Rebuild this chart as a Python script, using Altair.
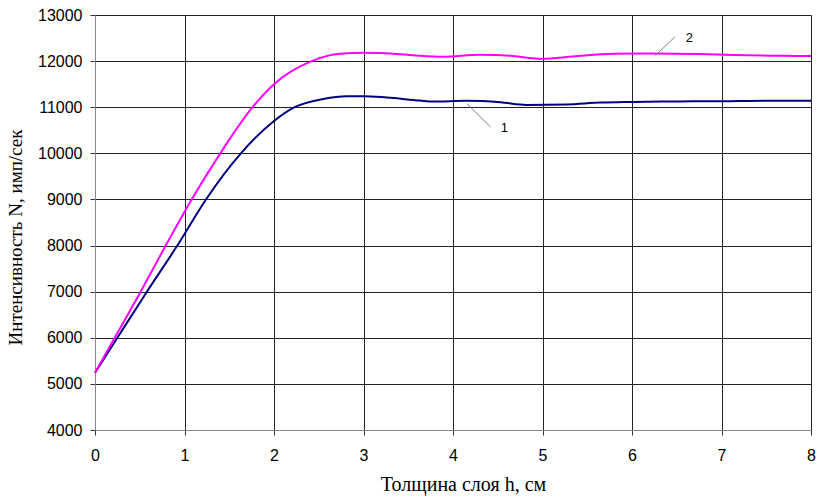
import altair as alt
import pandas as pd

# Curve 1 (blue)
x1 = [0, 0.25, 0.58, 0.92, 1.24, 1.63, 2.0, 2.23, 2.55, 2.81, 3.0,
      3.26, 3.63, 3.78, 4.15, 4.53, 4.82, 5.27, 5.64, 6.01, 6.39, 7.0, 7.51, 8.0]
y1 = [5240, 6000, 7000, 8000, 9000, 10000, 10700, 11000, 11180, 11240, 11240,
      11210, 11145, 11123, 11140, 11108, 11050, 11060, 11100, 11115, 11125, 11130, 11140, 11140]

# Curve 2 (magenta)
x2 = [0, 0.22, 0.51, 0.79, 1.08, 1.40, 1.76, 2.0, 2.42,
      2.74, 3.0, 3.41, 3.63, 3.89, 4.3, 4.64, 5.0, 5.34, 5.79, 6.2, 6.76, 7.13, 7.69, 8.0]
y2 = [5240, 6000, 7000, 8000, 9000, 10000, 11000, 11500, 12000,
      12160, 12180, 12150, 12115, 12094, 12140, 12116, 12052, 12101, 12159, 12166, 12152, 12130, 12116, 12110]

# Annotations: labels and leader lines (data units)
ann_text = ["1", "2"]
ann_x = [4.575, 6.64]
ann_y = [10557, 12511]
lead_x = [4.155, 6.26]
lead_y = [11078, 12120]
lead_x2 = [4.42, 6.48]
lead_y2 = [10572, 12526]

x_ticks = [0, 1, 2, 3, 4, 5, 6, 7, 8]
y_ticks = [4000, 5000, 6000, 7000, 8000, 9000, 10000, 11000, 12000, 13000]

df = pd.concat([
    pd.DataFrame({"h": x1, "N": y1, "s": "1"}),
    pd.DataFrame({"h": x2, "N": y2, "s": "2"}),
])
ann = pd.DataFrame({"t": ann_text, "x": ann_x, "y": ann_y})
lead = pd.DataFrame({"x": lead_x, "y": lead_y, "x2": lead_x2, "y2": lead_y2})

xscale = alt.Scale(domain=[0, 8], nice=False)
yscale = alt.Scale(domain=[4000, 13000], nice=False, zero=False)

lines = alt.Chart(df).mark_line(strokeWidth=2, interpolate="monotone").encode(
    x=alt.X("h:Q", scale=xscale,
            axis=alt.Axis(values=x_ticks, title="Толщина слоя h, см", format="d",
                          titleX=368, titlePadding=11, titleFontSize=20, labelFlush=False)),
    y=alt.Y("N:Q", scale=yscale,
            axis=alt.Axis(values=y_ticks, title="Интенсивность N, имп/сек", format="d",
                          titleX=-70, titleY=222, titleFontSize=19)),
    color=alt.Color("s:N", scale=alt.Scale(domain=["1", "2"], range=["#000080", "#FF00FF"]),
                    legend=None),
    detail="s:N",
)

leaders = alt.Chart(lead).mark_rule(color="#808080", strokeWidth=1).encode(
    x=alt.X("x:Q", scale=xscale), y=alt.Y("y:Q", scale=yscale), x2="x2:Q", y2="y2:Q"
)

labels = alt.Chart(ann).mark_text(font="Liberation Sans", fontSize=13, color="#000",
                                  align="center", baseline="middle").encode(
    x=alt.X("x:Q", scale=xscale), y=alt.Y("y:Q", scale=yscale), text="t:N"
)

chart = alt.layer(lines, leaders, labels).properties(
    width=716, height=415,
    autosize=alt.AutoSizeParams(type="none"),
    padding={"left": 95, "top": 15, "right": 7, "bottom": 70},
    background="white",
).configure_view(stroke="#999999", strokeWidth=1).configure_axis(
    grid=True, gridColor="#222222", gridWidth=1, gridOpacity=1,
    domainColor="#888888", tickColor="#333333", tickSize=5,
    labelFont="Liberation Sans", labelFontSize=16, labelColor="#000",
    titleFont="Liberation Serif", titleFontWeight="normal", titleColor="#000",
).configure_axisX(labelPadding=12).configure_axisY(labelPadding=8)

chart.save("out.html", embed_options={"renderer": "svg", "actions": False})
